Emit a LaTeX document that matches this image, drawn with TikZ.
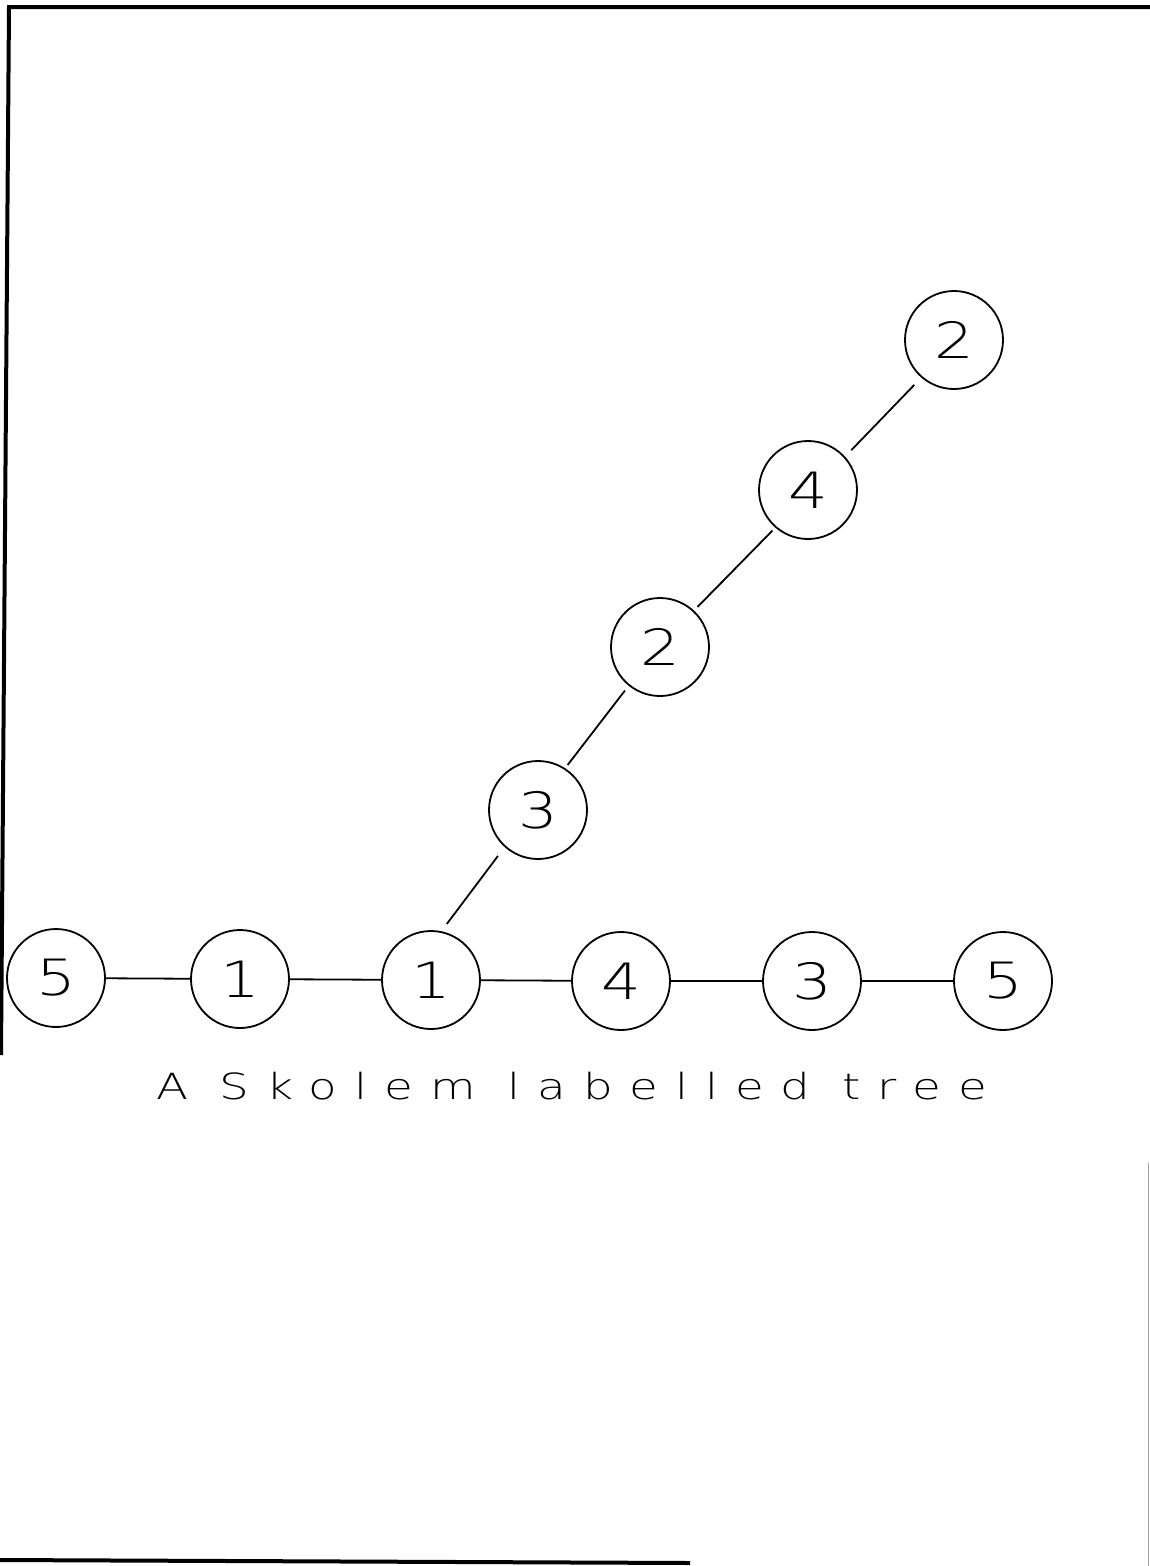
\documentclass[tikz,border=0pt]{standalone}
\usepackage{fontspec}
\newfontfamily\plotfont[FakeStretch=1.25]{DejaVu Sans ExtraLight}
\newfontfamily\captionfont[FakeStretch=1.3,LetterSpace=47]{DejaVu Sans ExtraLight}
\begin{document}
\begin{tikzpicture}[x=1pt,y=-1pt,
  vertex/.style={circle,draw,line width=1.8pt,minimum size=98pt,inner sep=0pt,
    font=\plotfont\fontsize{50}{50}\selectfont},
  edge/.style={line width=1.8pt},
  frame/.style={line width=4pt},
  faintframe/.style={line width=1.5pt,black!35}]
\useasboundingbox (0,0) rectangle (1150,1566);

% page frame
\draw[frame] (1,1055) -- (9,7) -- (1150,7);
\draw[frame] (0,1560) -- (690,1563);
\draw[faintframe] (1148.5,1163) -- (1148.5,1566);

% spine of the tree
\node[vertex] (b1) at (56,978)   {5};
\node[vertex] (b2) at (240,979)  {1};
\node[vertex] (b3) at (431,980)  {1};
\node[vertex] (b4) at (621,981)  {4};
\node[vertex] (b5) at (812,981)  {3};
\node[vertex] (b6) at (1003,981) {5};

% branch
\node[vertex] (d1) at (538,810) {3};
\node[vertex] (d2) at (660,647) {2};
\node[vertex] (d3) at (808,490) {4};
\node[vertex] (d4) at (954,340) {2};

\draw[edge] (b1) -- (b2);
\draw[edge] (b2) -- (b3);
\draw[edge] (b3) -- (b4);
\draw[edge] (b4) -- (b5);
\draw[edge] (b5) -- (b6);

\draw[edge, shorten <=9pt, shorten >=11pt] (b3.78) -- (d1.228);
\draw[edge, shorten <=4pt, shorten >=6pt]  (d1.57) -- (d2.231);
\draw[edge, shorten <=5pt, shorten >=4pt]  (d2.47) -- (d3.229);
\draw[edge, shorten <=9pt, shorten >=10pt] (d3.42) -- (d4.229);

\node[anchor=base west, inner sep=0pt, font=\captionfont\fontsize{36}{36}\selectfont]
  (caption) at (156,1099) {A Skolem labelled tree};
\end{tikzpicture}
\end{document}
